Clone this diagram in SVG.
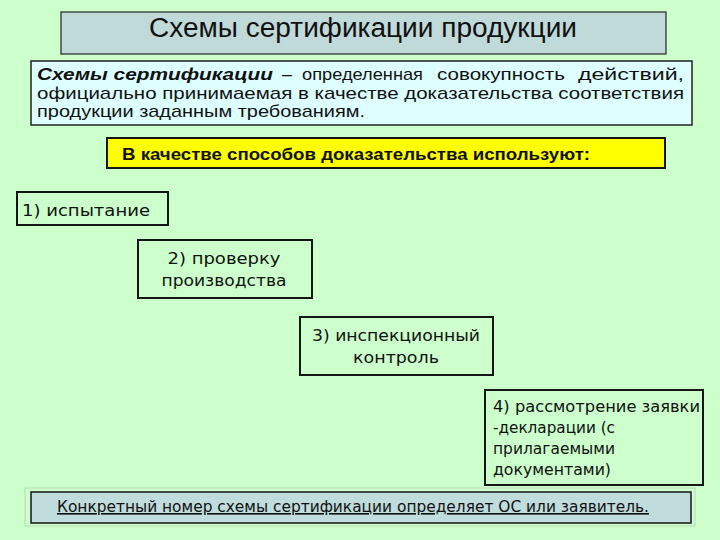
<svg xmlns="http://www.w3.org/2000/svg" width="720" height="540" viewBox="0 0 720 540">
<style>
.box{fill:none;stroke:#151515;stroke-width:2}
.t{font-family:"Liberation Sans",Arial,sans-serif;fill:#111}
.d{font-family:"Liberation Sans",Arial,sans-serif;fill:#111;font-size:17px}
.n{font-family:"DejaVu Sans","Liberation Sans",sans-serif;fill:#111;font-size:16px}
</style>
<rect width="720" height="540" fill="#CCFFCC"/>
<g id="title">
<rect x="61" y="12" width="605" height="42" fill="#C0DADA" stroke="#222" stroke-width="1.2"/>
<text class="t" x="363" y="37" font-size="27" text-anchor="middle" textLength="428" lengthAdjust="spacingAndGlyphs">Схемы сертификации продукции</text>
</g>
<g id="definition">
<rect x="31" y="61" width="661" height="64" fill="#DEFFFF" stroke="#222" stroke-width="1.5"/>
<text class="d" x="37" y="80" font-weight="bold" font-style="italic" textLength="236" lengthAdjust="spacingAndGlyphs">Схемы   сертификации</text>
<text class="d" x="282" y="80" textLength="10" lengthAdjust="spacingAndGlyphs">–</text>
<text class="d" x="302" y="80" textLength="121" lengthAdjust="spacingAndGlyphs">определенная</text>
<text class="d" x="437" y="80" textLength="128" lengthAdjust="spacingAndGlyphs">совокупность</text>
<text class="d" x="578" y="80" textLength="106" lengthAdjust="spacingAndGlyphs">действий,</text>
<text class="d" x="37" y="99" textLength="647" lengthAdjust="spacingAndGlyphs">официально принимаемая в качестве доказательства соответствия</text>
<text class="d" x="37" y="117" textLength="328" lengthAdjust="spacingAndGlyphs">продукции заданным требованиям.</text>
</g>
<g id="methods">
<rect x="107" y="138" width="558" height="30" fill="#FFFF00" stroke="#151515" stroke-width="2"/>
<text class="t" x="122" y="160" font-size="17" font-weight="bold" textLength="468" lengthAdjust="spacingAndGlyphs">В качестве способов доказательства используют:</text>
</g>
<g id="item1">
<rect class="box" x="17" y="192" width="151" height="33"/>
<text class="n" x="22" y="216" font-size="19" textLength="128" lengthAdjust="spacingAndGlyphs">1) испытание</text>
</g>
<g id="item2">
<rect class="box" x="138" y="240" width="174" height="58"/>
<text class="n" x="224" y="264" font-size="17" text-anchor="middle" textLength="113" lengthAdjust="spacingAndGlyphs">2) проверку</text>
<text class="n" x="224" y="286" font-size="17" text-anchor="middle" textLength="125" lengthAdjust="spacingAndGlyphs">производства</text>
</g>
<g id="item3">
<rect class="box" x="300" y="317" width="193" height="58"/>
<text class="n" x="396" y="341" font-size="17" text-anchor="middle" textLength="168" lengthAdjust="spacingAndGlyphs">3) инспекционный</text>
<text class="n" x="396" y="363" font-size="17" text-anchor="middle" textLength="86" lengthAdjust="spacingAndGlyphs">контроль</text>
</g>
<g id="item4">
<rect class="box" x="485" y="390" width="218" height="95"/>
<text class="n" x="493" y="412" textLength="207" lengthAdjust="spacingAndGlyphs">4) рассмотрение заявки</text>
<text class="n" x="493" y="433" textLength="122" lengthAdjust="spacingAndGlyphs">-декларации (с</text>
<text class="n" x="493" y="454" textLength="122" lengthAdjust="spacingAndGlyphs">прилагаемыми</text>
<text class="n" x="493" y="475" textLength="118" lengthAdjust="spacingAndGlyphs">документами)</text>
</g>
<g id="footer">
<rect x="25" y="488" width="670" height="38" fill="none" stroke="#B8D8B8" stroke-width="1"/>
<rect x="31" y="492" width="660" height="31" fill="#C0DCDC" stroke="#151515" stroke-width="1.5"/>
<text class="n" x="57" y="512" textLength="592" lengthAdjust="spacingAndGlyphs" text-decoration="underline">Конкретный номер схемы сертификации определяет ОС или заявитель.</text>
</g>
<g id="connectors"></g>
</svg>
